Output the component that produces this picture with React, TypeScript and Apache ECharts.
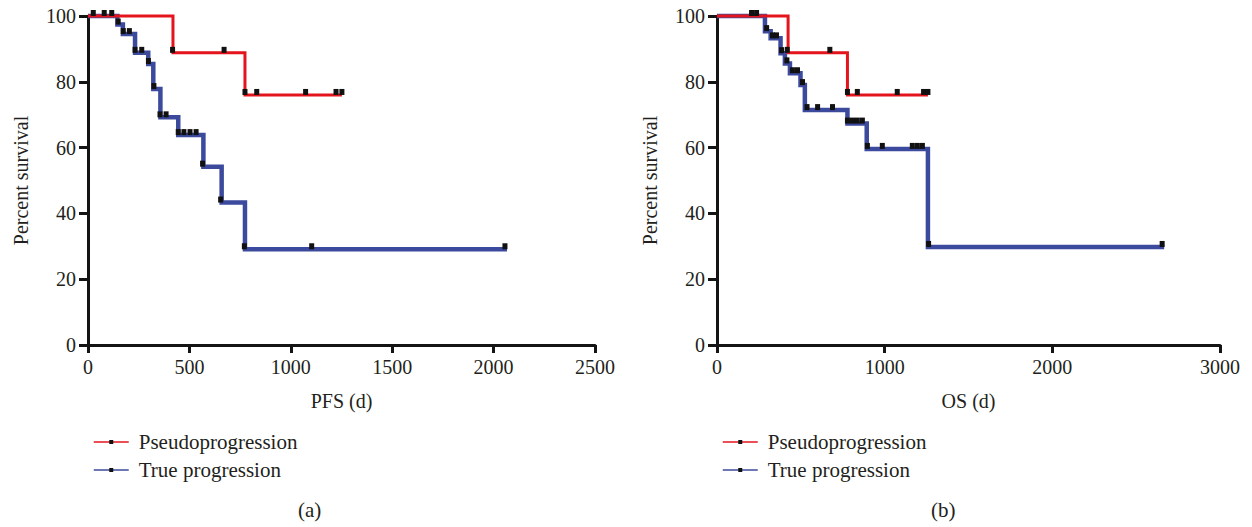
import React, { useEffect, useRef } from 'react';
import * as echarts from 'echarts';

// ---- Panel (a): PFS ----
const pfsTicks = [0, 500, 1000, 1500, 2000, 2500];
const pfsPseudoDays = [0, 419, 774, 1252];
const pfsPseudoPct = [100, 88.8, 76.0, 76.0];
const pfsPseudoMarkDays = [26, 80, 117, 417, 671, 774, 832, 1073, 1223, 1252];
const pfsPseudoMarkPct = [100, 100, 100, 88.8, 88.8, 76.0, 76.0, 76.0, 76.0, 76.0];
const pfsTrueDays = [0, 145, 172, 232, 297, 322, 357, 445, 569, 659, 774, 2066];
const pfsTruePct = [100, 97.4, 94.5, 88.8, 85.4, 77.8, 69.2, 63.8, 54.2, 43.3, 29.1, 29.1];
const pfsTrueMarkDays = [149, 174, 204, 232, 265, 298, 325, 355, 385, 445, 473, 503, 533, 565, 654, 771, 1103, 2056];
const pfsTrueMarkPct = [97.4, 94.5, 94.5, 88.8, 88.8, 85.4, 77.8, 69.2, 69.2, 63.8, 63.8, 63.8, 63.8, 54.2, 43.3, 29.1, 29.1, 29.1];

// ---- Panel (b): OS ----
const osTicks = [0, 1000, 2000, 3000];
const osPseudoDays = [0, 424, 778, 1258];
const osPseudoPct = [100, 88.8, 76.0, 76.0];
const osPseudoMarkDays = [206, 236, 419, 673, 778, 837, 1075, 1232, 1258];
const osPseudoMarkPct = [100, 100, 88.8, 88.8, 76.0, 76.0, 76.0, 76.0, 76.0];
const osTrueDays = [0, 286, 320, 379, 405, 435, 498, 524, 778, 893, 1258, 2667];
const osTruePct = [100, 95.4, 93.2, 88.7, 85.6, 82.6, 79.0, 71.4, 67.3, 59.6, 29.8, 29.8];
const osTrueMarkDays = [296, 331, 355, 385, 417, 450, 480, 510, 537, 600, 689, 778, 808, 837, 867, 897, 986, 1165, 1195, 1225, 1262, 2655];
const osTrueMarkPct = [95.4, 93.2, 93.2, 88.7, 85.6, 82.6, 82.6, 79.0, 71.4, 71.4, 71.4, 67.3, 67.3, 67.3, 67.3, 59.6, 59.6, 59.6, 59.6, 59.6, 29.8, 29.8];

const yTicks = [0, 20, 40, 60, 80, 100];
const seriesNames = ['Pseudoprogression', 'True progression'];
const panelLabels = ['(a)', '(b)'];
const axisNames = ['PFS (d)', 'OS (d)'];

const RED = '#e3141c';
const BLUE = '#3c4a9e';
const AXIS = '#141414';
const TEXT = '#231f20';
const FONT = '"Liberation Serif", "DejaVu Serif", serif';

const zip = (a: number[], b: number[]) => a.map((v, i) => [v, b[i]]);
const plain = (v: number) => String(v);

function xAxisFor(idx: number, ticks: number[]) {
  return {
    type: 'value',
    gridIndex: idx,
    min: ticks[0],
    max: ticks[ticks.length - 1],
    interval: ticks[1] - ticks[0],
    name: axisNames[idx],
    nameLocation: 'middle',
    nameGap: 46,
    nameTextStyle: { fontFamily: FONT, fontSize: 20, color: TEXT },
    axisLine: { show: true, onZero: false, lineStyle: { color: AXIS, width: 3 } },
    axisTick: { show: true, length: 8, lineStyle: { color: AXIS, width: 3 } },
    axisLabel: { margin: 12, fontFamily: FONT, fontSize: 20, color: TEXT, formatter: plain },
    splitLine: { show: false },
  };
}

function yAxisFor(idx: number) {
  return {
    type: 'value',
    gridIndex: idx,
    min: yTicks[0],
    max: yTicks[yTicks.length - 1],
    interval: yTicks[1] - yTicks[0],
    name: 'Percent survival',
    nameLocation: 'middle',
    nameGap: 57,
    nameTextStyle: { fontFamily: FONT, fontSize: 20, color: TEXT },
    axisLine: { show: true, onZero: false, lineStyle: { color: AXIS, width: 3 } },
    axisTick: { show: true, length: 9, lineStyle: { color: AXIS, width: 3 } },
    axisLabel: { margin: 12, fontFamily: FONT, fontSize: 20, color: TEXT, formatter: plain },
    splitLine: { show: false },
  };
}

function lineSeries(name: string, idx: number, days: number[], pct: number[], color: string, width: number, z: number) {
  return {
    type: 'line',
    name,
    xAxisIndex: idx,
    yAxisIndex: idx,
    step: 'end',
    data: zip(days, pct),
    symbol: 'rect',
    showSymbol: false,
    clip: false,
    silent: true,
    itemStyle: { color: '#111111' },
    lineStyle: { color, width, join: 'miter', cap: 'butt' },
    z,
  };
}

function markSeries(name: string, idx: number, days: number[], pct: number[]) {
  return {
    type: 'scatter',
    name,
    xAxisIndex: idx,
    yAxisIndex: idx,
    data: zip(days, pct),
    symbol: 'rect',
    symbolSize: [5, 6],
    symbolOffset: [0, -3],
    clip: false,
    silent: true,
    itemStyle: { color: '#111111', opacity: 1 },
    z: 10,
  };
}

function legendFor(left: number) {
  return {
    show: true,
    orient: 'vertical',
    left,
    top: 425,
    data: seriesNames,
    itemWidth: 35,
    itemHeight: 5,
    itemGap: 4,
    selectedMode: false,
    lineStyle: { width: 1.5 },
    textStyle: { fontFamily: FONT, fontSize: 21, lineHeight: 24, color: TEXT, padding: [0, 0, 0, 5] },
  };
}

export default function App() {
  const ref = useRef<HTMLDivElement>(null);
  useEffect(() => {
    const chart = echarts.init(ref.current!, null, { renderer: 'svg' });
    chart.setOption({
      animation: false,
      backgroundColor: '#ffffff',
      grid: [
        { left: 88, right: 657, top: 16, bottom: 182 },
        { left: 717, right: 32, top: 16, bottom: 182 },
      ],
      xAxis: [xAxisFor(0, pfsTicks), xAxisFor(1, osTicks)],
      yAxis: [yAxisFor(0), yAxisFor(1)],
      legend: [legendFor(88), legendFor(717)],
      graphic: [
        { type: 'text', left: 298, top: 499, style: { text: panelLabels[0], font: `21px ${FONT}`, fill: TEXT } },
        { type: 'text', left: 931, top: 499, style: { text: panelLabels[1], font: `21px ${FONT}`, fill: TEXT } },
      ],
      series: [
        lineSeries(seriesNames[1], 0, pfsTrueDays, pfsTruePct, BLUE, 4.5, 2),
        lineSeries(seriesNames[0], 0, pfsPseudoDays, pfsPseudoPct, RED, 3, 3),
        markSeries('PFS true marks', 0, pfsTrueMarkDays, pfsTrueMarkPct),
        markSeries('PFS pseudo marks', 0, pfsPseudoMarkDays, pfsPseudoMarkPct),
        lineSeries(seriesNames[1], 1, osTrueDays, osTruePct, BLUE, 4.5, 2),
        lineSeries(seriesNames[0], 1, osPseudoDays, osPseudoPct, RED, 3, 3),
        markSeries('OS true marks', 1, osTrueMarkDays, osTrueMarkPct),
        markSeries('OS pseudo marks', 1, osPseudoMarkDays, osPseudoMarkPct),
      ],
    });
    return () => chart.dispose();
  }, []);
  return (
    <div
      ref={ref}
      style={{ position: 'absolute', left: 0, top: 0, width: 1252, height: 527, background: '#fff' }}
    />
  );
}
